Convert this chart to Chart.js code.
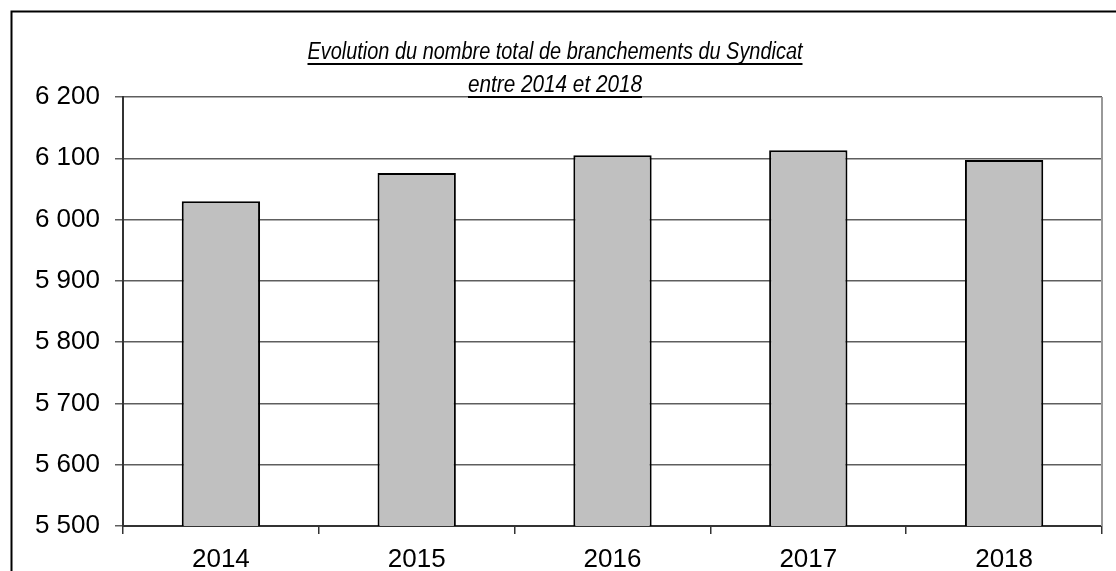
<!DOCTYPE html>
<html>
<head>
<meta charset="utf-8">
<script src="https://cdn.jsdelivr.net/npm/chart.js@4.4.1/dist/chart.umd.min.js"></script>
<style>
  body { margin: 0; background: #fff; }
  canvas { display: block; }
</style>
</head>
<body>
<canvas id="chartCanvas" width="1116" height="571"></canvas>
<script>
// data
const years = ['2014', '2015', '2016', '2017', '2018'];
const branchements = [6030, 6076, 6105, 6113, 6097];
const yMin = 5500;
const yMax = 6200;
const yStep = 100;
const titleLines = ['Evolution du nombre total de branchements du Syndicat', 'entre 2014 et 2018'];

const fontName = '"Liberation Sans", Arial, sans-serif';

const formatNumber = (v) => String(v).replace(/\B(?=(\d{3})+(?!\d))/g, ' ');

// frame, right border of the plot and the underlined italic title
const decorPlugin = {
  id: 'decor',
  beforeDraw(chart) {
    const ctx = chart.ctx;
    ctx.save();
    ctx.fillStyle = '#fff';
    ctx.fillRect(0, 0, chart.width, chart.height);
    ctx.strokeStyle = '#000';
    ctx.lineWidth = 2;
    ctx.strokeRect(11.5, 11.5, chart.width + 20, chart.height + 20);
    ctx.restore();
  },
  afterDraw(chart) {
    const ctx = chart.ctx;
    const area = chart.chartArea;
    ctx.save();
    ctx.strokeStyle = '#999';
    ctx.lineWidth = 2;
    ctx.beginPath();
    ctx.moveTo(area.right, area.top);
    ctx.lineTo(area.right, area.bottom);
    ctx.stroke();

    // title text in the picture is a bit narrower than Arial, squeeze it
    ctx.font = 'italic 23px ' + fontName;
    ctx.fillStyle = '#000';
    ctx.textAlign = 'left';
    ctx.textBaseline = 'alphabetic';
    const cx = 555;
    const baselines = [59, 92];
    const widths = [495, 174];
    titleLines.forEach((line, i) => {
      const w = ctx.measureText(line).width;
      const sx = widths[i] / w;
      const x = cx - widths[i] / 2;
      ctx.save();
      ctx.translate(x, baselines[i]);
      ctx.scale(sx, 1);
      ctx.fillText(line, 0, 0);
      ctx.restore();
      ctx.fillRect(x, baselines[i] + 4, widths[i], 2);
    });
    ctx.restore();
  }
};

const ctx = document.getElementById('chartCanvas').getContext('2d');
const chart = new Chart(ctx, {
  type: 'bar',
  data: {
    labels: years,
    datasets: [
      {
        label: 'Branchements',
        data: branchements,
        backgroundColor: '#c0c0c0',
        borderColor: '#000',
        borderWidth: 2,
        barPercentage: 0.4,
        categoryPercentage: 1,
      },
    ],
  },
  options: {
    responsive: false,
    animation: false,
    layout: {
      padding: { top: 97, right: 14, bottom: 0, left: 0 },
    },
    plugins: {
      legend: { display: false },
      tooltip: { enabled: false },
      title: { display: false },
    },
    scales: {
      x: {
        offset: true,
        grid: {
          offset: true,
          drawOnChartArea: false,
          drawTicks: true,
          tickLength: 8,
          color: '#333',
          lineWidth: 1.5,
        },
        border: { display: true, color: '#333', width: 2 },
        ticks: {
          color: '#000',
          font: { family: fontName, size: 26 },
          padding: 10,
          maxRotation: 0,
        },
        afterFit: (s) => { s.height = 45; },
      },
      y: {
        min: yMin,
        max: yMax,
        grid: {
          color: '#5e5e5e',
          lineWidth: 1.5,
          drawTicks: true,
          tickLength: 8,
        },
        border: { display: true, color: '#333', width: 2 },
        ticks: {
          stepSize: yStep,
          color: '#000',
          font: { family: fontName, size: 26 },
          padding: 15,
          callback: (v) => formatNumber(v),
        },
        afterFit: (s) => { s.width = 123; },
      },
    },
  },
  plugins: [decorPlugin],
});
</script>
</body>
</html>
